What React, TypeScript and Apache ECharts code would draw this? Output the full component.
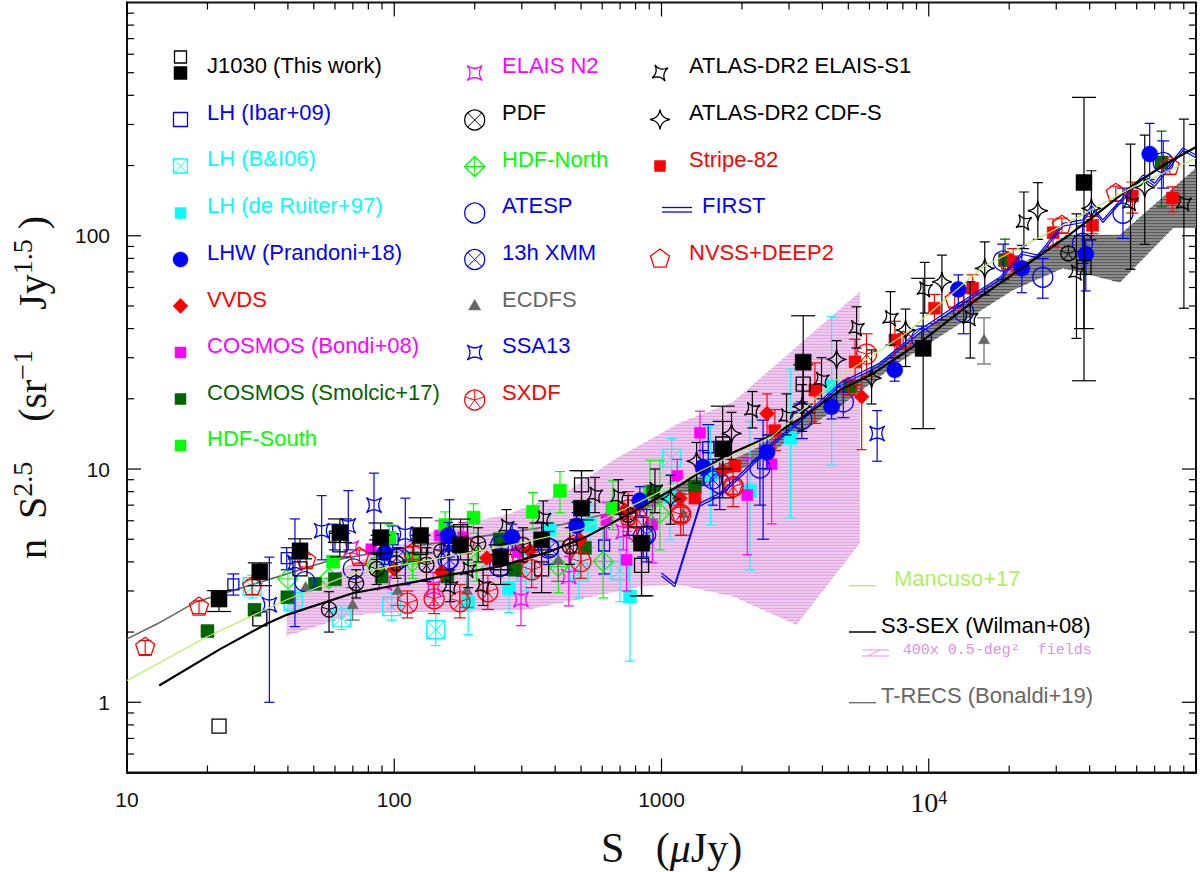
import React, { useEffect, useRef } from "react";
import * as echarts from "echarts";

type Row = number[];

// ---- axis ticks ----
const xMajorTicks = [10, 100, 1000, 10000, 100000];
const xMinorTicks = [20, 30, 40, 50, 60, 70, 80, 90, 200, 300, 400, 500, 600, 700, 800, 900, 2000, 3000, 4000, 5000, 6000, 7000, 8000, 9000, 20000, 30000, 40000, 50000, 60000, 70000, 80000, 90000];
const yMajorTicks = [1, 10, 100];
const yMinorTicks = [0.6, 0.7, 0.8, 0.9, 2, 3, 4, 5, 6, 7, 8, 9, 20, 30, 40, 50, 60, 70, 80, 90, 200, 300, 400, 500, 600, 700, 800, 900];
const xTickLabels: Record<string, string> = { "1": "10", "2": "100", "3": "1000", "4": "{n|10}{s|4}" };
const yTickLabels: Record<string, string> = { "0": "1", "1": "10", "2": "100" };

// ---- data: [S, value, low, high] ----
const j1030Filled: Row[] = [[22.1,2.77,2.45,3.01],[31.4,3.63,3.16,3.96],[44.4,4.46,4.12,5.02],[62.6,5.34,4.84,6.11],[88.9,5.08,4.37,5.87],[125.5,5.19,4.37,6.18],[177,4.73,4.08,5.65],[250,4.17,3.7,4.73],[356,4.97,4.29,5.87],[502,6.79,6.05,9.84],[842,4.81,2.86,5.65],[1694,12.2,7.52,18.6],[3390,28.7,17.4,45.4],[9530,32.9,14.9,65.7],[38100,169,23.9,392]];
const j1030Open: Row[] = [[22.1,0.79],[31.4,2.28],[44.4,3.73],[62.6,4.73,4.2,5.3],[88.9,4.64,4.1,5.2],[125.5,4.6,4,5.2],[177,5.39,4.7,6.1],[250,3.76,3.2,4.3],[356,3.73,2.95,4.5],[502,8.55,7.2,9.84],[842,3.86,2.86,4.9],[1694,12.8,10,16],[3390,23.1,19,28],[38100,73.2,40,100]];
const lhIbar: Row[] = [[25,3.2,2.88,3.55],[39.6,4.15,3.7,4.6],[60,5.13,4.5,5.8],[98.6,5.0,4.4,5.7],[160,4.9,4.2,5.7],[250,4.3,3.7,5],[610,4.7,3.55,5.6],[1496,12.4,9.5,15.5],[2400,10.6,5,16.2]];
const lhBI: Row[] = [[29.4,3.13,2.8,3.5],[41.9,2.7,2.4,3],[63.5,2.3,2.05,2.6],[97.8,2.57,2.25,2.95],[143,2.05,1.75,2.4],[311,3.61,3,4.3],[491,3.61,2.8,4.7],[699,3.67,2.7,5.1],[1091,11.1,8.7,13.5]];
const lhRuiter: Row[] = [[189,2.68,1.95,3.3],[269,3.08,2.43,3.7],[382,5.48,4.2,6.7],[540,5.76,4.6,7],[762,2.84,1.5,3.88],[1075,7.57,4.97,9.5],[1527,9.44,5.76,15.3],[2142,8.07,3.69,16],[3040,13.6,6.17,26.8],[4330,22.7,10.4,45]];
const lhwPrandoni: Row[] = [[92,4.37,3.9,4.9],[159,5.19,4.5,5.9],[276,5.1,4.5,5.8],[481,5.71,5,6.5],[830,7.32,6.3,8.4],[1432,10.2,8.5,12],[2483,11.8,10,14],[4330,18.5,16.4,20.9],[7460,26.6,23.8,30],[12900,58.9,50,68],[22300,72.5,57,91],[38700,83.5,58,96],[67100,224,174,303]];
const vvds: Row[] = [[100,3.72],[150,3.61],[222,4.15],[322,4.47],[495,4.97],[729,6.68],[1172,7.5],[1697,9.9],[2483,17.3,14,21],[5610,20.4,12.1,28.9]];
const cosmosBondi: Row[] = [[82,4.53],[148,5.19,4.5,6],[181,5.1,4.4,5.9],[290,4.4,3.8,5.1],[622,6.05,5,7.2],[740,4.08,3,5.4],[925,5.8,3.96,7.5],[1146,9.34,7,11],[1393,14.3,9.75,17.7],[2094,7.74,4.29,11.1],[2582,10.5,5.82,15.2]];
const cosmosSmolcic: Row[] = [[20,2.02],[30,2.49],[39.8,2.82],[50.5,3.22],[60,3.37],[89.7,3.46],[158,3.46],[248,5],[283,3.7],[517,4.59],[929,8],[1333,8.41],[5070,22.6],[19300,78.7,62.5,96.8],[74300,206,133,281]];
const hdfSouth: Row[] = [[59,4.01],[96,5.08,4.4,5.8],[117,4.16,3.5,4.9],[155,5.76,4.9,6.55],[198,6.19,5.3,7.1],[330,6.56,5.5,7.94],[417,8.08,6.5,9.75],[658,6.82,5.5,8.9],[906,8,4.6,10.9]];
const elaisN2: Row[] = [[69,4.58],[92,3.25],[140,3.09,2.6,3.6],[298,2.76,2.13,3.46],[450,3.46,2.59,4.22],[719,5.39,4.5,6.4]];
const pdf: Row[] = [[57,2.5,2,2.98],[72,3.24,2.8,3.7],[86,3.73,3.2,4.3],[102,3.95,3.4,4.6],[132,3.88,3.3,4.6],[150,4.43,3.7,5.2],[206,4.78,4,5.6],[303,4.73,4,5.6],[454,4.65,3.9,5.6],[750,6.36,5.2,7.7],[33300,84]];
const hdfNorth: Row[] = [[40,3.38],[57,3.4],[85.5,3.88],[117,4.01,3.4,4.7],[203,3.95,3.3,4.7],[411,3.82,2.95,4.9],[605,4.01,2.8,5.6],[986,6.47,4.5,10.9]];
const atesp: Row[] = [[46.3,3.29],[70.3,3.73],[105,4.15],[159,4.08,3.5,4.8],[248,3.82],[377,4.58,3.9,5.4],[855,5.13,4.2,6.2],[1652,8.69,6.7,11],[2335,10.1,7,13.5],[3350,16.3,13.5,19.4],[4790,19.4,16.6,22.5],[9400,36.3,31,41],[13500,47.2,38,57],[19000,77.9,65,92],[26700,66.4,54,80],[37600,92.8,76,110],[53300,125,97.5,160],[75400,206,160,255]];
const xmm13h: Row[] = [[102,4.15],[161,4.08],[248,4.73],[382,4.59],[880,5.22,4,6.7],[1556,8.98,7,11]];
const ecdfs: Row[] = [[46.6,3.13],[69.9,2.63,2.25,3.1],[103,3.03,2.6,3.5],[187,3.03,2.55,3.6],[411,4.08,3.3,4.9],[1208,6.47,5.2,7.8],[16100,36,28.2,44.5]];
const ssa13: Row[] = [[34.1,2.62,1,4.19],[42.5,3.96,2.11,6.11],[53.5,5.44,4.08,7.69],[67.3,5.71,4.5,8.08],[84,7,4.97,9.6],[110,5.26,3.19,7.5],[161,4.8,3.2,7.38],[6410,14.2,10.8,17.8]];
const sxdf: Row[] = [[112,2.66,2.3,3],[141,2.78,2.4,3.2],[176,2.7,2.3,3.2],[224,2.98,2.5,3.5],[327,3.7,3.1,4.4],[499,4.01,3.4,4.7],[750,6.68,5.6,8],[807,6.15,5,7.4],[1180,6.4,5.2,7.8],[1854,8.41,6.9,10.1],[5850,31.1,25,38]];
const atlasElais: Row[] = [[162,3.13,2.7,3.7],[189,3.7,3.1,4.4],[215,3.13,2.6,3.7],[263,5.66,4.8,6.7],[361,6.15,5.2,7.3],[564,7.75,6.5,9.2],[689,7.62,6.4,9],[945,8.13,6.5,10],[2188,17.9,15,21.5],[2937,16.8,14,21],[3970,24.1,20,30],[5370,40.1,33,49.6],[7190,44.3,34,57.6],[9660,58.9,46.6,76.9],[14300,44.3,29.9,63.5],[22700,114,88,154],[35700,69.5,36.3,124],[56900,138,71.8,247],[90100,138,48.9,316]];
const atlasCdfs: Row[] = [[1081,7.45,5.8,9.4],[1353,10.8,8.7,13],[1828,14.2,11,17.5],[3360,18.5,14.5,23],[4520,29.5,18.8,35.5],[6110,24.5,19,32.4],[8190,39.4,27.5,48.5],[11200,63.5,43.5,82.6],[16200,72.5,55.7,94.2],[25600,128,96.5,169],[40600,131,96,190],[64300,161,91.8,270]];
const stripe82: Row[] = [[1333,7.5],[1883,10.3],[2655,14.6,12,18],[3750,21.8,15.7,28.5],[5300,28.8,23,36],[7470,35.7,30,43],[10500,48.9,42,56],[14600,59.6,52,68],[20700,77.4,68,88],[29200,103,90,118],[41000,111,102,121],[57800,148,125,170],[81700,145,127,162]];
const nvssDeep2: Row[] = [[11.7,1.72,1.6,1.84],[18.6,2.56,2.4,2.72],[29.4,3.13,2.9,3.35],[46.8,4.05,3.8,4.3],[74,4.19,3.95,4.5],[117,4.36,4.1,4.65],[184,4.7,4.4,5],[295,4.29,4,4.6],[468,4.73,4.4,5.05],[750,6.25,5.8,6.7],[1180,6.4,5.95,6.85],[1854,8.41,7.8,9],[5000,22.4,20.8,24],[8020,35.4,33,38],[12500,53,49.5,57],[19800,77.4,72,83],[31500,111,103,119],[50100,152,141,163],[79800,198,184,212]];

// ---- model curves ----
const firstUpper: Row[] = [[1000,3.58],[1122,3.22],[1393,7.14],[1652,7.87],[2142,10.4],[2546,12.7],[3200,15.8],[4660,23.4],[6560,28.5],[9260,39.5],[13600,53],[18500,66.5],[22500,85.4],[25600,82.6],[31800,113],[37700,117],[40600,135],[44800,117],[63300,182],[70100,168],[89300,238],[100000,222]];
const firstLower: Row[] = [[1000,3.48],[1122,3.13],[1393,6.95],[1652,7.66],[2142,10.1],[2546,12.4],[3200,15.4],[4660,22.8],[6560,27.7],[9260,38.4],[13600,51.6],[18500,64.7],[22500,83.1],[25600,80.4],[31800,110],[37700,114],[40600,131],[44800,114],[63300,177],[70100,163],[89300,232],[100000,216]];
const s3Sex: Row[] = [[13.2,1.18],[22.3,1.69],[33.3,2.17],[39.6,2.37],[70.3,2.94],[121,3.29],[161,3.52],[248,3.82],[382,4.43],[525,5.13],[830,6.81],[1205,8.69],[1702,11.3],[2618,14],[3490,17.1],[4660,21.8],[6200,25.7],[9530,35.7],[13800,49.6],[24600,78.7],[32800,99],[43700,127],[58200,165],[77600,204],[100000,240]];
const mancuso: Row[] = [[10,1.24],[19.9,1.91],[39.6,2.75],[70.3,3.58],[125,4.01],[263,4.68],[495,5.48],[830,7.23],[1472,10.1],[2618,13.9],[4660,24.9],[8260,38.3],[16000,73.7],[32800,113],[58200,162],[100000,215]];
const tRecsLine: Row[] = [[10,1.87],[13.1,2.18],[18.2,2.7],[36.3,3.44],[55.8,4.01],[96.4,4.5],[209,5.13],[417,5.76],[830,6.95]];
const tRecsUpper: Row[] = [[830,7],[2270,12.3],[4660,21.4],[7800,33.4],[13800,53],[32800,101],[51900,101],[100000,195]];
const tRecsLower: Row[] = [[100000,108],[82200,108],[51900,63],[31800,72.5],[20700,58.5],[7800,28.8],[4660,18.6],[2270,10.7],[830,6.55]];
const fieldsUpper: Row[] = [[39.6,2.8],[68.3,3.88],[105,4.73],[157,5.66],[263,6.36],[442,8],[659,10.9],[1172,15.8],[1854,19.4],[5520,57.5]];
const fieldsLower: Row[] = [[5520,4.81],[3200,2.15],[1854,2.84],[1122,3.22],[830,3.13],[313,2.49],[187,2.45],[125,2.45],[70.3,2.37],[39.6,1.93]];

// ---- colours ----
const BLUE = "#0000ff", CYAN = "#00ffff", RED = "#ff0000", MAGENTA = "#ff00ff", GREEN = "#00ff00", DKGREEN = "#006400", GREY = "#666666", BLACK = "#000000", LIME = "#b2ee5e", PLUM = "#e090e0";

// ---- glyphs ----
type Glyph = "sq" | "sqFill" | "sqX" | "circle" | "circleFill" | "circleX" | "wheel" | "diamond" | "diamondCross" | "triangle" | "starD" | "starDTilt" | "starPlus" | "pentagon";

function line(x1: number, y1: number, x2: number, y2: number, color: string, w = 1.2) {
  return { type: "line", shape: { x1, y1, x2, y2 }, style: { stroke: color, lineWidth: w, fill: "none" } };
}
function star4(cx: number, cy: number, r: number, rot: number) {
  const pts: number[][] = [];
  const tip = (k: number) => { const a = rot + (k * Math.PI) / 2; return [cx + r * Math.cos(a), cy + r * Math.sin(a)]; };
  for (let k = 0; k < 4; k++) {
    const a = tip(k), b = tip(k + 1);
    for (let t = 0; t < 1; t += 0.2) {
      const u = 1 - t;
      const ctrl = 0.12;
      pts.push([
        u * u * a[0] + 2 * u * t * (cx + (a[0] + b[0] - 2 * cx) * ctrl) + t * t * b[0],
        u * u * a[1] + 2 * u * t * (cy + (a[1] + b[1] - 2 * cy) * ctrl) + t * t * b[1],
      ]);
    }
  }
  return pts;
}
function ngon(cx: number, cy: number, r: number, n: number) {
  const pts: number[][] = [];
  for (let k = 0; k < n; k++) {
    const a = -Math.PI / 2 + (k * 2 * Math.PI) / n;
    pts.push([cx + r * Math.cos(a), cy + r * Math.sin(a)]);
  }
  return pts;
}
function glyphElements(g: Glyph, cx: number, cy: number, size: number, color: string): any[] {
  const r = size / 2;
  const open = { stroke: color, lineWidth: 1.3, fill: "none" };
  const solid = { fill: color, stroke: color, lineWidth: 0.5 };
  const d = r * Math.SQRT1_2;
  switch (g) {
    case "sq": return [{ type: "rect", shape: { x: cx - r, y: cy - r, width: size, height: size }, style: open }];
    case "sqFill": return [{ type: "rect", shape: { x: cx - r, y: cy - r, width: size, height: size }, style: solid }];
    case "sqX": return [{ type: "rect", shape: { x: cx - r, y: cy - r, width: size, height: size }, style: open }, line(cx - r, cy - r, cx + r, cy + r, color, 1), line(cx - r, cy + r, cx + r, cy - r, color, 1)];
    case "circle": return [{ type: "circle", shape: { cx, cy, r }, style: open }];
    case "circleFill": return [{ type: "circle", shape: { cx, cy, r }, style: solid }];
    case "circleX": return [{ type: "circle", shape: { cx, cy, r }, style: open }, line(cx - d, cy - d, cx + d, cy + d, color, 1), line(cx - d, cy + d, cx + d, cy - d, color, 1)];
    case "wheel": return [{ type: "circle", shape: { cx, cy, r }, style: open }, ...ngon(cx, cy, r, 5).map((p) => line(cx, cy, p[0], p[1], color, 1))];
    case "diamond": return [{ type: "polygon", shape: { points: ngon(cx, cy, r, 4) }, style: solid }];
    case "diamondCross": return [{ type: "polygon", shape: { points: ngon(cx, cy, r, 4) }, style: open }, line(cx - r, cy, cx + r, cy, color, 1), line(cx, cy - r, cx, cy + r, color, 1)];
    case "triangle": return [{ type: "polygon", shape: { points: ngon(cx, cy + r * 0.2, r, 3) }, style: solid }];
    case "starD": return [{ type: "polygon", shape: { points: star4(cx, cy, r * 1.25, Math.PI / 4) }, style: open }];
    case "starDTilt": return [{ type: "polygon", shape: { points: star4(cx, cy, r * 1.25, Math.PI / 4 + 0.22) }, style: open }];
    case "starPlus": return [{ type: "polygon", shape: { points: star4(cx, cy, r * 1.1, 0) }, style: open }];
    case "pentagon": return [{ type: "polygon", shape: { points: ngon(cx, cy, r, 5) }, style: open }];
  }
  return [];
}

function pointSeries(name: string, rows: Row[], glyph: Glyph, color: string, size: number, cap: number, z: number) {
  return {
    type: "custom", name, coordinateSystem: "cartesian2d", clip: true, silent: true, z,
    data: rows.map((r) => [r[0], r[1]]),
    encode: { x: 0, y: 1 },
    renderItem: (p: any, api: any) => {
      const row = rows[p.dataIndex];
      const [cx, cy] = api.coord([row[0], row[1]]);
      const children: any[] = [];
      if (row.length > 3) {
        const lo = api.coord([row[0], row[2]])[1];
        const hi = api.coord([row[0], row[3]])[1];
        children.push(line(cx, lo, cx, hi, color), line(cx - cap, lo, cx + cap, lo, color), line(cx - cap, hi, cx + cap, hi, color));
      }
      children.push(...glyphElements(glyph, cx, cy, size, color));
      return { type: "group", children };
    },
  };
}

function scanHatch(pts: number[][], step: number, color: string, w: number) {
  const ys = pts.map((p) => p[1]);
  const top = Math.min(...ys), bottom = Math.max(...ys);
  const out: any[] = [];
  for (let y = top + step / 2; y < bottom; y += step) {
    const xs: number[] = [];
    for (let i = 0; i < pts.length; i++) {
      const a = pts[i], b = pts[(i + 1) % pts.length];
      if ((a[1] <= y && b[1] > y) || (b[1] <= y && a[1] > y)) xs.push(a[0] + ((y - a[1]) / (b[1] - a[1])) * (b[0] - a[0]));
    }
    xs.sort((m, n) => m - n);
    for (let i = 0; i + 1 < xs.length; i += 2) out.push(line(xs[i], y, xs[i + 1], y, color, w));
  }
  return out;
}
function bandSeries(name: string, upper: Row[], lower: Row[], fill: string, hatch: string, step: number, z: number) {
  const poly = [...upper, ...lower];
  return {
    type: "custom", name, coordinateSystem: "cartesian2d", clip: true, silent: true, z,
    data: [poly[0]],
    encode: { x: 0, y: 1 },
    renderItem: (_p: any, api: any) => {
      const pts = poly.map((r) => api.coord(r));
      return { type: "group", children: [{ type: "polygon", shape: { points: pts }, style: { fill, stroke: "none" } }, ...scanHatch(pts, step, hatch, 1)] };
    },
  };
}
function curve(name: string, rows: Row[], color: string, width: number, z: number) {
  return { type: "line", name, data: rows, symbol: "none", silent: true, z, lineStyle: { color, width }, itemStyle: { color } };
}

// ---- in-frame key ----
const TEXT_FONT = '22px "Liberation Sans", Arial, sans-serif';
type KeyRow = [string, string, number, number];
const keyTexts: KeyRow[] = [
  ["J1030 (This work)", BLACK, 207, 65],
  ["LH (Ibar+09)", BLUE, 207, 112],
  ["LH (B&I06)", CYAN, 207, 158],
  ["LH (de Ruiter+97)", CYAN, 207, 205],
  ["LHW (Prandoni+18)", BLUE, 207, 252],
  ["VVDS", RED, 207, 299],
  ["COSMOS (Bondi+08)", MAGENTA, 207, 345],
  ["COSMOS (Smolcic+17)", DKGREEN, 207, 392],
  ["HDF-South", GREEN, 207, 438],
  ["ELAIS N2", MAGENTA, 502, 65],
  ["PDF", BLACK, 502, 112],
  ["HDF-North", GREEN, 502, 159],
  ["ATESP", BLUE, 502, 205],
  ["13h XMM", BLUE, 502, 252],
  ["ECDFS", GREY, 502, 299],
  ["SSA13", BLUE, 502, 345],
  ["SXDF", RED, 502, 392],
  ["ATLAS-DR2 ELAIS-S1", BLACK, 689, 65],
  ["ATLAS-DR2 CDF-S", BLACK, 689, 112],
  ["Stripe-82", RED, 689, 159],
  ["FIRST", BLUE, 702, 205],
  ["NVSS+DEEP2", RED, 689, 252],
  ["Mancuso+17", LIME, 894, 578],
  ["S3-SEX (Wilman+08)", BLACK, 881, 625],
  ["T-RECS (Bonaldi+19)", GREY, 881, 695],
];
type KeyGlyph = [Glyph, string, number, number, number];
const keyGlyphs: KeyGlyph[] = [
  ["sq", BLACK, 180.5, 57, 12], ["sqFill", BLACK, 180.5, 73, 13], ["sq", BLUE, 180.5, 119.5, 14], ["sqX", CYAN, 180.5, 166, 14],
  ["sqFill", CYAN, 180.5, 213, 11], ["circleFill", BLUE, 180.5, 259.5, 15], ["diamond", RED, 180.5, 306, 15], ["sqFill", MAGENTA, 180.5, 352.5, 11],
  ["sqFill", DKGREEN, 180.5, 399, 11], ["sqFill", GREEN, 180.5, 445.5, 11],
  ["starD", MAGENTA, 474.7, 73, 17], ["circleX", BLACK, 474.7, 120, 20], ["diamondCross", GREEN, 474.7, 166.5, 20], ["circle", BLUE, 474.7, 213, 20],
  ["circleX", BLUE, 474.7, 259.5, 20], ["triangle", GREY, 474.7, 305, 14], ["starD", BLUE, 474.7, 352.5, 17], ["wheel", RED, 474.7, 400, 20],
  ["starDTilt", BLACK, 660, 73, 15], ["starPlus", BLACK, 660, 119.5, 18], ["sqFill", RED, 660, 166, 11], ["pentagon", RED, 660, 259, 20],
];
const keyLines: [number, number, number, number, string, number][] = [
  [662, 207.5, 692, 207.5, BLUE, 1.3], [662, 212, 692, 212, BLUE, 1.3],
  [849, 585.7, 876, 585.7, LIME, 1.3], [849, 632, 876, 632, BLACK, 1.5], [849, 702.7, 876, 702.7, GREY, 1.3],
  [862, 650, 889, 650, PLUM, 1], [862, 656, 889, 656, PLUM, 1], [868, 656, 880, 650, PLUM, 1],
];

const decade = (v: number) => String(Math.round(Math.log10(v) * 1000) / 1000);

function buildOption() {
  const tickSeries = {
    type: "custom", name: "ticks", coordinateSystem: "cartesian2d", silent: true, z: 20, clip: false,
    data: [[10, 1]], encode: { x: 0, y: 1 },
    renderItem: (p: any, api: any) => {
      const { x, y, width, height } = p.coordSys;
      const out: any[] = [];
      const vx = (v: number, len: number) => { const c = api.coord([v, 1])[0]; out.push(line(c, y, c, y + len, BLACK, 1.2), line(c, y + height, c, y + height - len, BLACK, 1.2)); };
      const hy = (v: number, len: number) => { const c = api.coord([10, v])[1]; out.push(line(x, c, x + len, c, BLACK, 1.2), line(x + width, c, x + width - len, c, BLACK, 1.2)); };
      xMajorTicks.forEach((v) => vx(v, 14)); xMinorTicks.forEach((v) => vx(v, 7));
      yMajorTicks.forEach((v) => hy(v, 14)); yMinorTicks.forEach((v) => hy(v, 7));
      return { type: "group", children: out };
    },
  };
  const serif = '"Liberation Serif", "Times New Roman", serif';
  return {
    animation: false,
    backgroundColor: "#ffffff",
    grid: { left: 127, top: 2.5, width: 1069, height: 770, show: true, borderColor: "#111", borderWidth: 2, backgroundColor: "transparent", containLabel: false, outerBoundsMode: "none" },
    xAxis: {
      type: "log", logBase: 10, min: 10, max: 100000,
      name: "{t|S   (}{i|μ}{t|Jy)}", nameLocation: "middle", nameGap: 54,
      nameTextStyle: { rich: { t: { fontFamily: serif, fontSize: 42, color: "#111" }, i: { fontFamily: serif, fontSize: 42, fontStyle: "italic", color: "#111" } }, padding: [0, 0, 0, 20] },
      axisLine: { show: true, onZero: false, lineStyle: { color: "#111", width: 2 } },
      axisTick: { show: false }, minorTick: { show: false }, splitLine: { show: false },
      axisLabel: {
        show: true, margin: 16, showMinLabel: true, hideOverlap: false, color: "#111", fontFamily: "Liberation Sans", fontSize: 21,
        formatter: (v: number) => xTickLabels[decade(v)] || "",
        rich: { n: { fontFamily: serif, fontSize: 28, color: "#111" }, s: { fontFamily: serif, fontSize: 18, color: "#111", verticalAlign: "top", lineHeight: 20 } },
      },
    },
    yAxis: {
      type: "log", logBase: 10, min: 0.5, max: 1000,
      name: "{b|n  S}{s|2.5}{b|    (sr}{s|−1}{b|    Jy}{s|1.5}{b| )}", nameLocation: "middle", nameGap: 75,
      nameTextStyle: { rich: { b: { fontFamily: serif, fontSize: 40, color: "#111", lineHeight: 44, verticalAlign: "bottom" }, s: { fontFamily: serif, fontSize: 28, color: "#111", lineHeight: 28, verticalAlign: "top" } } },
      axisLine: { show: true, onZero: false, lineStyle: { color: "#111", width: 2 } },
      axisTick: { show: false }, minorTick: { show: false }, splitLine: { show: false },
      axisLabel: { show: true, margin: 17, color: "#111", fontFamily: "Liberation Sans", fontSize: 21, padding: [6, 0, 0, 0], formatter: (v: number) => yTickLabels[decade(v)] || "" },
    },
    series: [
      bandSeries("400x 0.5-deg2 fields", fieldsUpper, fieldsLower, "#eeccee", "#e0a0e0", 3, 1),
      bandSeries("T-RECS band", tRecsUpper, tRecsLower, "#8c8c8c", "#555555", 3, 2),
      curve("T-RECS (Bonaldi+19)", tRecsLine, GREY, 1.6, 3),
      pointSeries("LH (Ibar+09) ", lhIbar, "sq", BLUE, 11, 6, 4),
      pointSeries("LH (B&I06)", lhBI, "sqX", CYAN, 18, 5, 4),
      pointSeries("LH (de Ruiter+97)", lhRuiter, "sqFill", CYAN, 13, 5, 4),
      pointSeries("COSMOS (Bondi+08)", cosmosBondi, "sqFill", MAGENTA, 11, 5, 4),
      pointSeries("ELAIS N2", elaisN2, "starD", MAGENTA, 17, 5, 4),
      pointSeries("HDF-South", hdfSouth, "sqFill", GREEN, 13, 5, 4),
      pointSeries("HDF-North", hdfNorth, "diamondCross", GREEN, 20, 5, 4),
      pointSeries("COSMOS (Smolcic+17)", cosmosSmolcic, "sqFill", DKGREEN, 13, 5, 4),
      pointSeries("ECDFS", ecdfs, "triangle", GREY, 13, 7, 4),
      pointSeries("ATESP", atesp, "circle", BLUE, 20, 6, 5),
      pointSeries("13h XMM", xmm13h, "circleX", BLUE, 18, 5, 5),
      pointSeries("SSA13", ssa13, "starD", BLUE, 17, 5, 5),
      pointSeries("VVDS", vvds, "diamond", RED, 15, 5, 5),
      pointSeries("Stripe-82", stripe82, "sqFill", RED, 12, 6, 5),
      pointSeries("SXDF", sxdf, "wheel", RED, 20, 6, 6),
      pointSeries("NVSS+DEEP2", nvssDeep2, "pentagon", RED, 20, 6, 6),
      pointSeries("PDF", pdf, "wheel", BLACK, 15, 5, 6),
      pointSeries("ATLAS-DR2 ELAIS-S1", atlasElais, "starDTilt", BLACK, 15, 5, 6),
      pointSeries("ATLAS-DR2 CDF-S", atlasCdfs, "starPlus", BLACK, 18, 5, 6),
      pointSeries("LHW (Prandoni+18)", lhwPrandoni, "circleFill", BLUE, 16, 5, 7),
      pointSeries("J1030 open", j1030Open, "sq", BLACK, 14, 10, 7),
      pointSeries("J1030 (This work)", j1030Filled, "sqFill", BLACK, 16, 12, 8),
      curve("FIRST", firstUpper, BLUE, 1.2, 9),
      curve("FIRST lower", firstLower, BLUE, 1.2, 9),
      curve("S3-SEX (Wilman+08)", s3Sex, BLACK, 2.2, 10),
      curve("Mancuso+17", mancuso, LIME, 1.2, 11),
      tickSeries,
    ],
    graphic: [
      {
        type: "group", silent: true, z: 30,
        children: [
          ...keyGlyphs.flatMap((g) => glyphElements(g[0], g[2], g[3], g[4], g[1])),
          ...keyLines.map((l) => line(l[0], l[1], l[2], l[3], l[4], l[5])),
          ...keyTexts.map((t) => ({ type: "text", x: t[2], y: t[3], style: { text: t[0], fill: t[1], font: TEXT_FONT, verticalAlign: "middle" } })),
          { type: "text", x: 902.7, y: 650, style: { text: "400x 0.5-deg²  fields", fill: PLUM, font: '15px "Liberation Mono", monospace', verticalAlign: "middle" } },
        ],
      },
    ],
  };
}

export default function App() {
  const ref = useRef<HTMLDivElement>(null);
  useEffect(() => {
    document.body.style.margin = "0";
    const chart = echarts.init(ref.current as HTMLDivElement, undefined, { renderer: "svg" });
    chart.setOption(buildOption() as any);
    return () => chart.dispose();
  }, []);
  return <div ref={ref} style={{ width: 1200, height: 872, background: "#fff" }} />;
}
